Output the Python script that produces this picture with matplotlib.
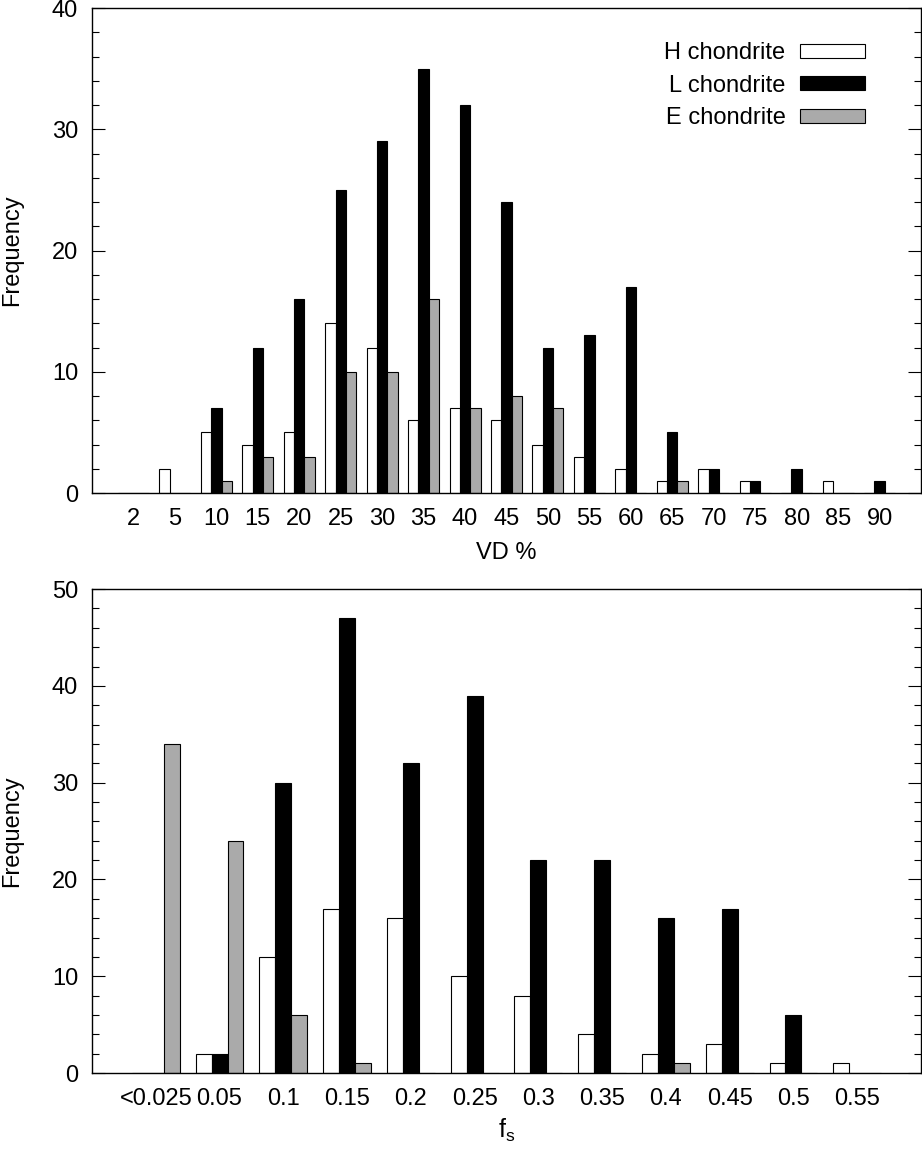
import numpy as np
import matplotlib
matplotlib.use('Agg')
import matplotlib.pyplot as plt
from matplotlib.patches import Patch
from matplotlib.ticker import MultipleLocator

plt.rcParams['font.family'] = ['Liberation Sans', 'DejaVu Sans']
plt.rcParams['mathtext.fontset'] = 'custom'
plt.rcParams['mathtext.rm'] = 'Liberation Sans'
plt.rcParams['mathtext.it'] = 'Liberation Sans'

# top panel: volume fraction of vesicles (VD %)
vd_labels = ['2', '5', '10', '15', '20', '25', '30', '35', '40', '45',
             '50', '55', '60', '65', '70', '75', '80', '85', '90']
vd_h = [0, 2, 5, 4, 5, 14, 12, 6, 7, 6, 4, 3, 2, 1, 2, 1, 0, 1, 0]
vd_l = [0, 0, 7, 12, 16, 25, 29, 35, 32, 24, 12, 13, 17, 5, 2, 1, 2, 0, 1]
vd_e = [0, 0, 1, 3, 3, 10, 10, 16, 7, 8, 7, 0, 0, 1, 0, 0, 0, 0, 0]

# bottom panel: f_s
fs_labels = ['<0.025', '0.05', '0.1', '0.15', '0.2', '0.25', '0.3',
             '0.35', '0.4', '0.45', '0.5', '0.55']
fs_h = [0, 2, 12, 17, 16, 10, 8, 4, 2, 3, 1, 1]
fs_l = [0, 2, 30, 47, 32, 39, 22, 22, 16, 17, 6, 0]
fs_e = [34, 24, 6, 1, 0, 0, 0, 0, 1, 0, 0, 0]

series_names = ['H chondrite', 'L chondrite', 'E chondrite']
colors = ['white', 'black', '#aaaaaa']

FS = 17
W = 0.25


def draw_panel(ax, labels, h, l, e, ymax):
    x = np.arange(len(labels))
    for i, (vals, c) in enumerate(zip([h, l, e], colors)):
        ax.bar(x + (i - 1) * W, vals, W, color=c, edgecolor='black',
               linewidth=0.8, zorder=2)
    ax.set_xlim(-1, len(labels))
    ax.set_ylim(0, ymax)
    ax.set_xticks(x)
    ax.set_xticklabels(labels)
    ax.yaxis.set_major_locator(MultipleLocator(10))
    ax.yaxis.set_minor_locator(MultipleLocator(2))
    ax.tick_params(axis='y', which='major', direction='in', length=9.5,
                   width=0.8, right=True, labelsize=FS, pad=10)
    ax.tick_params(axis='y', which='minor', direction='in', length=4.8,
                   width=0.8, right=True)
    ax.tick_params(axis='x', length=0, labelsize=FS, pad=11)
    for s in ax.spines.values():
        s.set_linewidth(1.0)
    ax.set_ylabel('Frequency', fontsize=FS)
    ax.yaxis.set_label_coords(-0.083, 0.5)


fig = plt.figure(figsize=(9.22, 11.49), dpi=100)
ax1 = fig.add_axes([0.0998, 0.5709, 0.8991, 0.4221])
ax2 = fig.add_axes([0.0998, 0.0661, 0.8991, 0.4212])

draw_panel(ax1, vd_labels, vd_h, vd_l, vd_e, 40)
ax1.set_xlabel('VD %', fontsize=FS)
ax1.xaxis.set_label_coords(0.5, -0.1)

handles = [Patch(facecolor=c, edgecolor='black', linewidth=0.8) for c in colors]
ax1.legend(handles, series_names, loc='upper right',
           bbox_to_anchor=(0.932, 0.93), frameon=False, markerfirst=False,
           fontsize=FS, handlelength=2.75, handleheight=0.55,
           handletextpad=0.6, labelspacing=0.45, borderpad=0,
           borderaxespad=0)

draw_panel(ax2, fs_labels, fs_h, fs_l, fs_e, 50)
ax2.set_xlabel(r'$\mathregular{f_s}$', fontsize=FS + 1)
ax2.xaxis.set_label_coords(0.5, -0.09)

fig.savefig('out.png', dpi=100)
